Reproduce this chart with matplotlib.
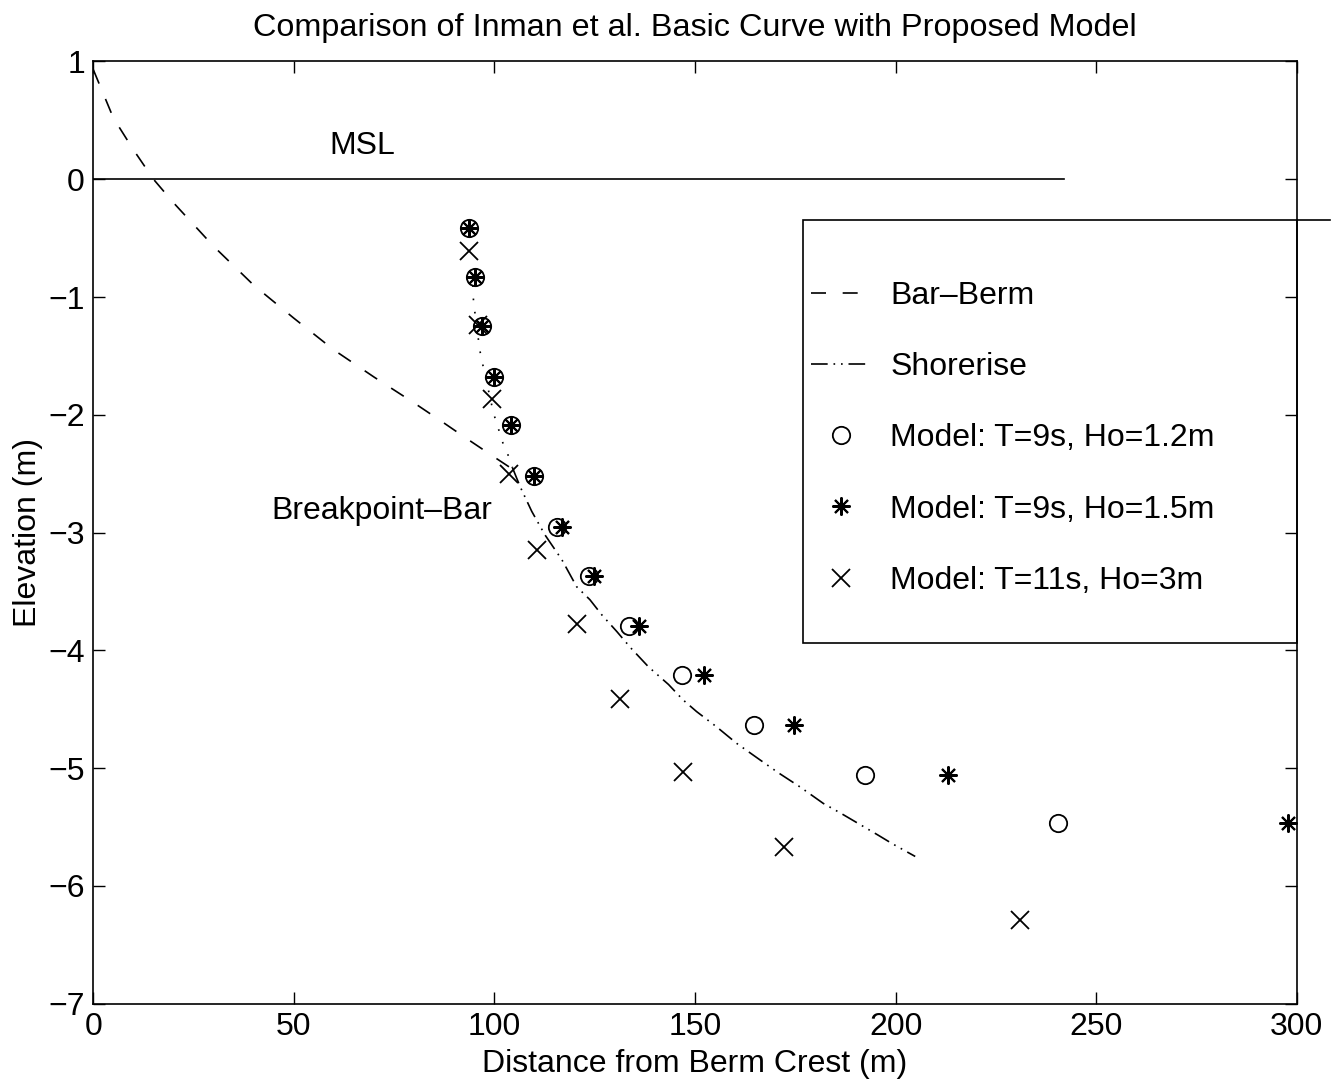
import matplotlib
matplotlib.use("Agg")
import matplotlib.pyplot as plt
from matplotlib.patches import Rectangle

plt.rcParams['font.family'] = ['Liberation Sans', 'DejaVu Sans']
plt.rcParams['font.size'] = 23

# Bar-Berm curve (dashed)
barberm_x = [0, 5, 10, 15, 20, 30, 40, 50, 60, 70, 80, 87, 93, 100, 104]
barberm_y = [0.93, 0.52, 0.25, 0.0, -0.2, -0.57, -0.9, -1.18, -1.45, -1.68, -1.9, -2.06, -2.2, -2.36, -2.45]

# upper dotted part near the breakpoint
dot_x = [94.6, 94.8, 95.2, 96.0, 96.4, 97.0, 99.6, 100.4, 101.4, 102.2, 103.5, 104.5]
dot_y = [-0.9, -1.05, -1.15, -1.36, -1.46, -1.56, -1.96, -2.06, -2.16, -2.25, -2.35, -2.45]

# Shorerise curve (dash-dot)
shore_x = [104.5, 106.4, 109.3, 112.6, 116.8, 120.5, 123.8, 126.8, 130.5, 134.0, 138.4,
           143.4, 147.0, 150.4, 155.4, 160.4, 166.2, 170.8, 176.2, 182.0, 186.2, 190.7,
           195.7, 199.1, 204.9]
shore_y = [-2.45, -2.61, -2.82, -3.02, -3.23, -3.46, -3.57, -3.70, -3.84, -3.98, -4.14,
           -4.29, -4.42, -4.52, -4.65, -4.79, -4.93, -5.04, -5.16, -5.30, -5.38, -5.47,
           -5.57, -5.64, -5.75]

# model results
m12_x = [93.7, 95.2, 96.8, 99.9, 104.1, 109.9, 115.7, 123.5, 133.6, 146.7, 164.8, 192.4, 240.6]
m12_y = [-0.41, -0.83, -1.25, -1.68, -2.09, -2.52, -2.95, -3.37, -3.79, -4.21, -4.63, -5.06, -5.47]
m15_x = [93.7, 95.2, 96.8, 99.9, 104.1, 109.9, 116.8, 124.7, 136.1, 152.3, 174.7, 213.0, 297.9]
m15_y = [-0.41, -0.83, -1.25, -1.68, -2.09, -2.52, -2.95, -3.37, -3.79, -4.21, -4.63, -5.06, -5.47]
m3_x = [93.7, 95.8, 99.3, 103.7, 110.7, 120.5, 131.3, 146.9, 172.2, 231.0]
m3_y = [-0.61, -1.24, -1.87, -2.50, -3.15, -3.78, -4.41, -5.03, -5.67, -6.29]

msl_x = [0, 242]
msl_y = [0, 0]

fig = plt.figure(figsize=(13.39, 10.88), dpi=100)
ax = fig.add_axes([0.0697, 0.0775, 0.8987, 0.866])

ax.plot(msl_x, msl_y, color='k', lw=1.2)
l1, = ax.plot(barberm_x, barberm_y, color='k', lw=1.2, dashes=(9, 10), label='Bar–Berm')
ax.plot(dot_x, dot_y, color='k', lw=1.2, dashes=(1, 7))
l2, = ax.plot(shore_x, shore_y, color='k', lw=1.2, dashes=(10, 3.5, 1, 3.5, 1, 3.5), label='Shorerise')
p1, = ax.plot(m12_x, m12_y, ls='none', marker='o', ms=12.5, mfc='none', mec='k', mew=1.3,
              label='Model: T=9s, Ho=1.2m')
p2, = ax.plot(m15_x, m15_y, ls='none', marker=(8, 2, 0), ms=13, mec='k', mew=1.5,
              label='Model: T=9s, Ho=1.5m', clip_on=False)
p3, = ax.plot(m3_x, m3_y, ls='none', marker='x', ms=12.5, mec='k', mew=1.3,
              label='Model: T=11s, Ho=3m')

ax.text(67, 0.28, 'MSL', ha='center', va='center')
ax.text(72, -2.82, 'Breakpoint–Bar', ha='center', va='center')

ax.set_xlim(0, 300)
ax.set_ylim(-7, 1)
ax.set_xticks([0, 50, 100, 150, 200, 250, 300])
ax.set_yticks([-7, -6, -5, -4, -3, -2, -1, 0, 1])
ax.tick_params(direction='in', length=8.5, width=1, top=True, right=True, pad=6)
for s in ax.spines.values():
    s.set_linewidth(1.2)

ax.set_xlabel('Distance from Berm Crest (m)', labelpad=5)
ax.set_ylabel('Elevation (m)', labelpad=4)
ax.set_title('Comparison of Inman et al. Basic Curve with Proposed Model', pad=18, fontsize=23.3)

# legend box drawn separately so padding matches
ax.add_patch(Rectangle((0.59, 0.383), 0.41, 0.449, transform=ax.transAxes,
                       fill=False, ec='k', lw=1.2, clip_on=False))
ax.plot([1.0, 1.028], [0.832, 0.832], color='k', lw=1.2, transform=ax.transAxes, clip_on=False)
ax.legend(handles=[l1, l2, p1, p2, p3], loc='upper left', bbox_to_anchor=(0.596, 0.767),
          frameon=False, borderpad=0, borderaxespad=0, handlelength=1.9,
          handletextpad=0.6, labelspacing=1.29)

fig.savefig('out.png', dpi=100)
